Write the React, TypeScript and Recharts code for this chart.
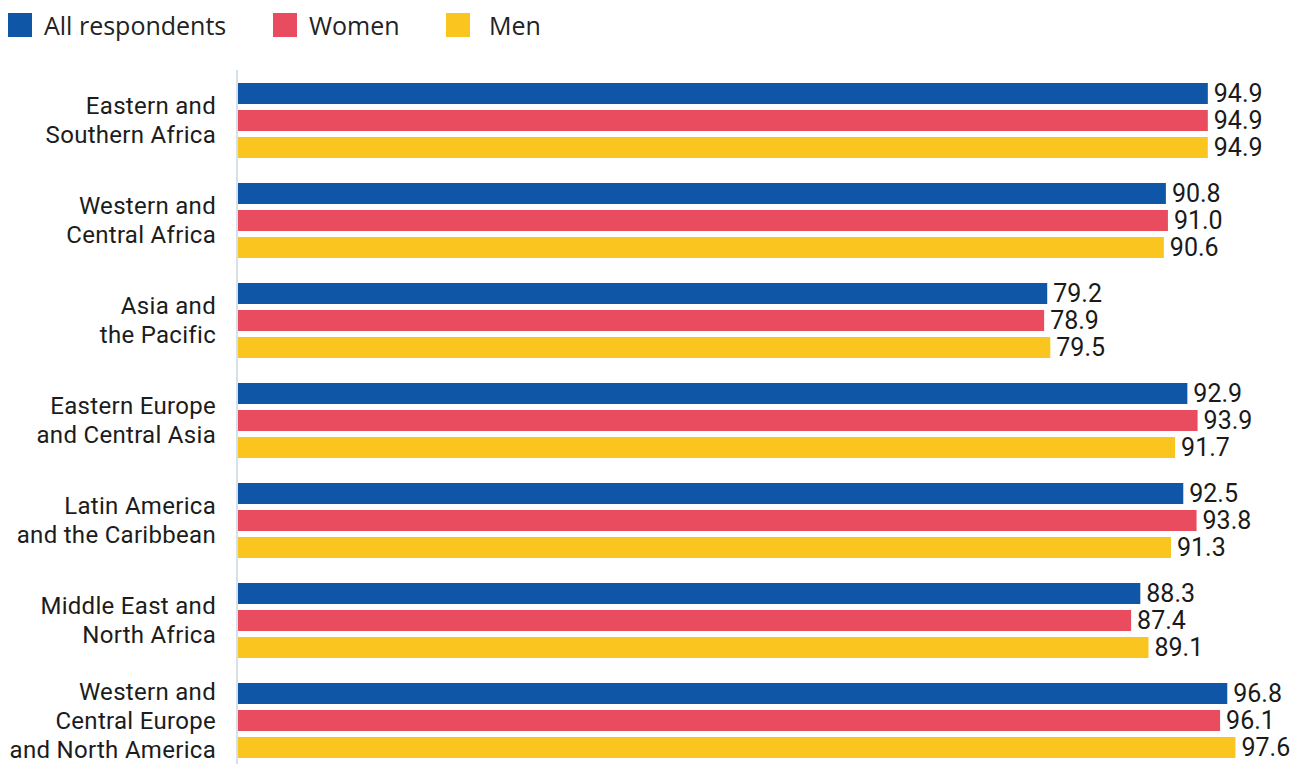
import React from 'react';
import { BarChart, Bar, XAxis, YAxis, LabelList } from 'recharts';

const regions = [
  'Eastern and\nSouthern Africa',
  'Western and\nCentral Africa',
  'Asia and\nthe Pacific',
  'Eastern Europe\nand Central Asia',
  'Latin America\nand the Caribbean',
  'Middle East and\nNorth Africa',
  'Western and\nCentral Europe\nand North America',
];
const allRespondents = [94.9, 90.8, 79.2, 92.9, 92.5, 88.3, 96.8];
const women = [94.9, 91.0, 78.9, 93.9, 93.8, 87.4, 96.1];
const men = [94.9, 90.6, 79.5, 91.7, 91.3, 89.1, 97.6];

const series = [
  { key: 'all', name: 'All respondents', color: '#1056a6' },
  { key: 'women', name: 'Women', color: '#e94c5f' },
  { key: 'men', name: 'Men', color: '#fbc51f' },
];

const data = regions.map((region, i) => ({
  region,
  all: allRespondents[i],
  women: women[i],
  men: men[i],
}));

const labelFont = 'Roboto, sans-serif';

const RegionTick = (props: any) => {
  const { x, y, payload } = props;
  const lines: string[] = String(payload.value).split('\n');
  const lh = 29;
  const start = -((lines.length - 1) * lh) / 2;
  const tx = x - 13;
  return (
    <text x={tx} y={y} textAnchor="end" fontSize={24} letterSpacing={0.3} fill="#1c1c1c" fontFamily={labelFont}>
      {lines.map((l, i) => (
        <tspan key={i} x={tx} y={y + start + i * lh} dy="0.36em">
          {l}
        </tspan>
      ))}
    </text>
  );
};

const legendPos = [8, 273, 446];
const legendGap = [12, 12, 19];

export default function App() {
  return (
    <div style={{ position: 'absolute', left: 0, top: 0, width: 1298, height: 764, overflow: 'hidden', background: '#fff' }}>
      {series.map((s, i) => (
        <div key={s.key} style={{ position: 'absolute', left: legendPos[i], top: 13, height: 24, display: 'flex', alignItems: 'center', fontFamily: '"Open Sans", sans-serif', fontSize: 25, color: '#222' }}>
          <span style={{ display: 'inline-block', width: 24, height: 24, background: s.color, marginRight: legendGap[i] }} />
          <span style={{ lineHeight: '24px' }}>{s.name}</span>
        </div>
      ))}
      <BarChart
        width={1298}
        height={770}
        data={data}
        layout="vertical"
        margin={{ top: 70, right: 38, left: 0, bottom: 0 }}
        barSize={21}
        barGap={6}
      >
        <XAxis type="number" domain={[0, 100]} hide />
        <YAxis
          type="category"
          dataKey="region"
          width={237}
          axisLine={{ stroke: '#d5e0ea', strokeWidth: 2 }}
          tickLine={false}
          tick={<RegionTick />}
          interval={0}
        />
        {series.map((s) => (
          <Bar key={s.key} dataKey={s.key} name={s.name} fill={s.color} isAnimationActive={false}>
            <LabelList
              dataKey={s.key}
              position="right"
              offset={6}
              formatter={(v: any) => Number(v).toFixed(1)}
              style={{ fontSize: 25, fill: '#1a1a1a', fontFamily: labelFont }}
            />
          </Bar>
        ))}
      </BarChart>
    </div>
  );
}
